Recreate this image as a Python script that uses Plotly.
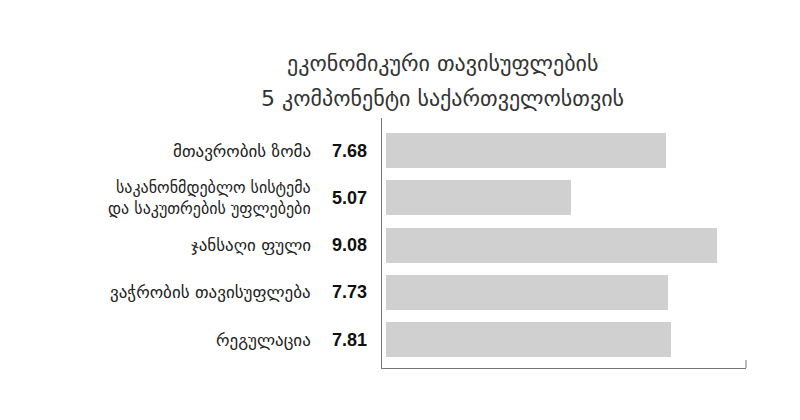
import plotly.graph_objects as go

categories = [
    "მთავრობის ზომა",
    "საკანონმდებლო სისტემა<br>და საკუთრების უფლებები",
    "ჯანსაღი ფული",
    "ვაჭრობის თავისუფლება",
    "რეგულაცია",
]
values = [7.68, 5.07, 9.08, 7.73, 7.81]
title_lines = ["ეკონომიკური თავისუფლების", "5 კომპონენტი საქართველოსთვის"]

GEO_FONT = "DejaVu Sans"
idx = list(range(len(categories)))

fig = go.Figure()
fig.add_trace(go.Bar(
    x=values, y=idx, orientation="h",
    marker=dict(color="#d0d0d1", line=dict(width=0)),
    width=0.74, hoverinfo="skip",
))

annotations = []
for i, (c, v) in enumerate(zip(categories, values)):
    annotations.append(dict(
        x=0, xref="paper", y=i, yref="y", xanchor="right", yanchor="middle",
        xshift=-69, text=c, showarrow=False, align="right",
        font=dict(family=GEO_FONT, size=17 if "<br>" not in c else 16, color="#222222"),
    ))
    annotations.append(dict(
        x=0, xref="paper", y=i, yref="y", xanchor="right", yanchor="middle",
        xshift=-13, text=f"<b>{v:.2f}</b>", showarrow=False,
        font=dict(family="Liberation Sans", size=18, color="#111111"),
    ))

for j, t in enumerate(title_lines):
    annotations.append(dict(
        x=(442 - 382) / (746 - 382), xref="paper",
        y=1, yref="paper", yshift=55 - 35 * j, yanchor="middle", xanchor="center",
        text=t, showarrow=False,
        font=dict(family=GEO_FONT, size=22, color="#333333"),
    ))

fig.update_layout(
    width=800, height=420,
    margin=dict(l=382, r=54, t=118, b=52),
    paper_bgcolor="white", plot_bgcolor="white",
    showlegend=False,
    annotations=annotations,
    bargap=0,
    shapes=[dict(type="line", xref="paper", yref="paper",
                 x0=1, x1=1, y0=0, y1=0.032,
                 line=dict(color="#777777", width=1))],
)
fig.update_xaxes(
    range=[-0.11, 9.87], showgrid=False, zeroline=False,
    showline=True, linecolor="#777777", linewidth=1,
    showticklabels=False, ticks="", fixedrange=True,
)
fig.update_yaxes(
    range=[4.6, -0.69], showgrid=False, zeroline=False,
    showline=True, linecolor="#777777", linewidth=1,
    showticklabels=False, ticks="", fixedrange=True,
)

fig.write_html("out.html")
